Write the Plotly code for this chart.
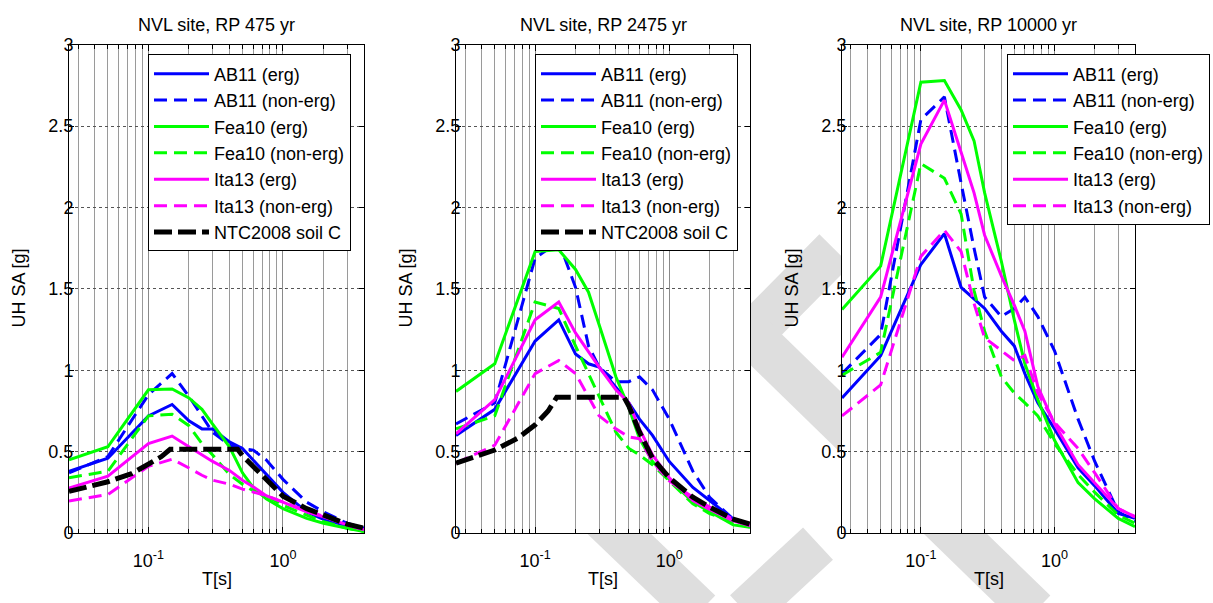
import numpy as np
import plotly.graph_objects as go

# ---------------- data ----------------
T = [0.0257, 0.05, 0.1, 0.15, 0.2, 0.25, 0.3, 0.4, 0.5, 0.6, 0.75, 1.0, 1.5, 2.0, 3.0, 4.0]
T_NTC = [0.0257, 0.05, 0.075, 0.1, 0.125, 0.145, 0.46, 0.5, 0.6, 0.75, 1.0, 1.5, 2.0, 3.0, 4.0]

# RP 475 yr
p1_ab11_erg = [0.38, 0.46, 0.72, 0.79, 0.69, 0.64, 0.64, 0.56, 0.52, 0.45, 0.36, 0.25, 0.13, 0.085, 0.045, 0.02]
p1_ab11_ne  = [0.37, 0.47, 0.85, 0.98, 0.84, 0.72, 0.62, 0.54, 0.52, 0.51, 0.45, 0.33, 0.19, 0.13, 0.06, 0.03]
p1_fea_erg  = [0.45, 0.53, 0.88, 0.885, 0.83, 0.76, 0.67, 0.53, 0.37, 0.28, 0.21, 0.15, 0.09, 0.06, 0.03, 0.01]
p1_fea_ne   = [0.34, 0.38, 0.72, 0.73, 0.66, 0.55, 0.48, 0.36, 0.30, 0.26, 0.23, 0.17, 0.11, 0.07, 0.03, 0.01]
p1_ita_erg  = [0.276, 0.35, 0.55, 0.596, 0.53, 0.48, 0.44, 0.385, 0.325, 0.285, 0.23, 0.19, 0.13, 0.10, 0.05, 0.02]
p1_ita_ne   = [0.197, 0.237, 0.41, 0.454, 0.40, 0.355, 0.325, 0.30, 0.27, 0.25, 0.23, 0.19, 0.14, 0.10, 0.05, 0.02]
p1_ntc      = [0.256, 0.315, 0.365, 0.42, 0.47, 0.515, 0.515, 0.475, 0.41, 0.32, 0.227, 0.15, 0.11, 0.055, 0.03]

# RP 2475 yr
p2_ab11_erg = [0.60, 0.76, 1.18, 1.31, 1.10, 1.04, 1.02, 0.90, 0.80, 0.70, 0.60, 0.44, 0.28, 0.20, 0.085, 0.036]
p2_ab11_ne  = [0.67, 0.80, 1.69, 1.79, 1.51, 1.15, 1.02, 0.93, 0.93, 0.96, 0.88, 0.70, 0.38, 0.22, 0.085, 0.045]
p2_fea_erg  = [0.87, 1.04, 1.73, 1.74, 1.62, 1.48, 1.28, 0.96, 0.77, 0.58, 0.44, 0.33, 0.19, 0.13, 0.05, 0.035]
p2_fea_ne   = [0.64, 0.72, 1.42, 1.38, 1.15, 0.98, 0.84, 0.62, 0.52, 0.48, 0.42, 0.32, 0.18, 0.12, 0.065, 0.045]
p2_ita_erg  = [0.61, 0.82, 1.31, 1.42, 1.23, 1.11, 1.02, 0.88, 0.80, 0.64, 0.48, 0.34, 0.20, 0.145, 0.075, 0.045]
p2_ita_ne   = [0.43, 0.54, 0.98, 1.06, 0.98, 0.84, 0.72, 0.64, 0.59, 0.58, 0.44, 0.32, 0.22, 0.16, 0.085, 0.055]
p2_ntc      = [0.43, 0.51, 0.585, 0.665, 0.75, 0.835, 0.835, 0.78, 0.62, 0.46, 0.34, 0.22, 0.16, 0.085, 0.055]

# RP 10000 yr
p3_ab11_erg = [0.83, 1.09, 1.65, 1.84, 1.51, 1.44, 1.38, 1.24, 1.15, 0.98, 0.80, 0.64, 0.40, 0.29, 0.12, 0.09]
p3_ab11_ne  = [0.98, 1.22, 2.54, 2.68, 2.15, 1.75, 1.45, 1.33, 1.38, 1.45, 1.33, 1.12, 0.70, 0.44, 0.13, 0.07]
p3_fea_erg  = [1.374, 1.64, 2.77, 2.78, 2.60, 2.41, 2.09, 1.67, 1.31, 1.04, 0.82, 0.57, 0.31, 0.21, 0.09, 0.04]
p3_fea_ne   = [0.97, 1.11, 2.27, 2.18, 1.96, 1.49, 1.24, 0.96, 0.86, 0.80, 0.72, 0.55, 0.36, 0.25, 0.11, 0.06]
p3_ita_erg  = [1.08, 1.45, 2.39, 2.66, 2.34, 2.09, 1.83, 1.58, 1.40, 1.24, 0.90, 0.67, 0.42, 0.31, 0.15, 0.10]
p3_ita_ne   = [0.72, 0.91, 1.70, 1.86, 1.73, 1.41, 1.20, 1.12, 1.06, 1.09, 0.86, 0.68, 0.52, 0.37, 0.15, 0.10]

titles = ["NVL site, RP 475 yr", "NVL site, RP 2475 yr", "NVL site, RP 10000 yr"]
names = ["AB11 (erg)", "AB11 (non-erg)", "Fea10 (erg)", "Fea10 (non-erg)",
         "Ita13 (erg)", "Ita13 (non-erg)", "NTC2008 soil C"]

panels = [
    [p1_ab11_erg, p1_ab11_ne, p1_fea_erg, p1_fea_ne, p1_ita_erg, p1_ita_ne, p1_ntc],
    [p2_ab11_erg, p2_ab11_ne, p2_fea_erg, p2_fea_ne, p2_ita_erg, p2_ita_ne, p2_ntc],
    [p3_ab11_erg, p3_ab11_ne, p3_fea_erg, p3_fea_ne, p3_ita_erg, p3_ita_ne, None],
]

# ---------------- styles ----------------
W, H = 1213, 603
FONT = "Liberation Sans, Arial, sans-serif"
FS = 18
styles = [
    dict(color="#0000FF", dash="solid", width=3),
    dict(color="#0000FF", dash="13px,7px", width=3),
    dict(color="#00FF00", dash="solid", width=3),
    dict(color="#00FF00", dash="13px,7px", width=3),
    dict(color="#FF00FF", dash="solid", width=3),
    dict(color="#FF00FF", dash="13px,7px", width=3),
    dict(color="#000000", dash="18px,6px", width=5),
]

px_x = [(69, 364), (456, 750), (842, 1135)]
px_y = (36, 541)
legend_px = [(148, 46), (535, 46), (1007, 46)]

fig = go.Figure()

# watermark (light-grey bands behind the white axes areas)
wm_color = "#dedede"
for (xa, ya, xb, yb) in [(835, 248, 742, 345), (745, 330, 1035, 622),
                         (575, 498, 700, 622), (818, 552, 745, 622)]:
    fig.add_shape(type="line", xref="paper", yref="paper",
                  x0=xa / W, y0=1 - ya / H, x1=xb / W, y1=1 - yb / H,
                  line=dict(color=wm_color, width=44), layer="below")

minor_vals = [0.03, 0.04, 0.05, 0.06, 0.07, 0.08, 0.09,
              0.2, 0.3, 0.4, 0.5, 0.6, 0.7, 0.8, 0.9, 2, 3, 4]

for i in range(3):
    xa = "x" if i == 0 else f"x{i+1}"
    ya = "y" if i == 0 else f"y{i+1}"
    lg = "legend" if i == 0 else f"legend{i+1}"
    # opaque white axes background (subplot layer, above the paper watermark)
    fig.add_shape(type="rect", xref=f"{xa} domain", yref=f"{ya} domain",
                  x0=0, x1=1, y0=0, y1=1, fillcolor="white",
                  line=dict(width=0), layer="below")
    for k, series in enumerate(panels[i]):
        if series is None:
            continue
        xs = T_NTC if k == 6 else T
        fig.add_trace(go.Scatter(x=xs, y=series, mode="lines", name=names[k],
                                 line=styles[k], xaxis=xa, yaxis=ya, legend=lg,
                                 showlegend=True))
    x0, x1 = px_x[i]
    axx = dict(type="log", range=[np.log10(T[0]), np.log10(4)],
               domain=[x0 / W, x1 / W], anchor=ya,
               tickvals=[0.1, 1], ticktext=["10<sup>-1</sup>", "10<sup>0</sup>"],
               ticks="inside", ticklen=6, tickcolor="black", mirror="ticks",
               ticklabelstandoff=11,
               showline=True, linecolor="black", linewidth=1,
               showgrid=True, gridcolor="#8a8a8a", gridwidth=1,
               minor=dict(tickvals=minor_vals, ticks="inside", ticklen=4,
                          tickcolor="black", showgrid=True,
                          gridcolor="#9a9a9a", gridwidth=1),
               tickfont=dict(family=FONT, size=FS, color="black"),
               zeroline=False)
    axy = dict(range=[0, 3], domain=[1 - px_y[1] / H, 1 - px_y[0] / H], anchor=xa,
               tickvals=[0, 0.5, 1, 1.5, 2, 2.5, 3],
               ticktext=["0", "0.5", "1", "1.5", "2", "2.5", "3"],
               ticks="inside", ticklen=5, tickcolor="black", mirror="ticks",
               ticklabelstandoff=-9,
               showline=True, linecolor="black", linewidth=1,
               showgrid=True, gridcolor="#555555", gridwidth=1, griddash="dot",
               tickfont=dict(family=FONT, size=FS, color="black"),
               zeroline=False)
    fig.update_layout(**{("xaxis" if i == 0 else f"xaxis{i+1}"): axx,
                         ("yaxis" if i == 0 else f"yaxis{i+1}"): axy})
    lx, ly = legend_px[i]
    fig.update_layout(**{lg: dict(x=lx / W, y=1 - ly / H, xanchor="left", yanchor="top",
                                  xref="paper", yref="paper",
                                  bgcolor="white", bordercolor="black", borderwidth=1,
                                  font=dict(family=FONT, size=FS, color="black"),
                                  itemwidth=55, tracegroupgap=0)})
    cx = (x0 + x1) / 2
    fig.add_annotation(text=titles[i], x=cx / W, y=1 - 16 / H, xref="paper", yref="paper",
                       showarrow=False, xanchor="center", yanchor="middle",
                       font=dict(family=FONT, size=FS, color="black"))
    fig.add_annotation(text="T[s]", x=cx / W, y=1 - 589 / H, xref="paper", yref="paper",
                       showarrow=False, xanchor="center", yanchor="middle",
                       font=dict(family=FONT, size=FS, color="black"))
    fig.add_annotation(text="UH SA [g]", x=(x0 - 50) / W, y=1 - 288 / H,
                       xref="paper", yref="paper", textangle=-90,
                       showarrow=False, xanchor="center", yanchor="middle",
                       font=dict(family=FONT, size=FS, color="black"))

fig.update_layout(width=W, height=H, margin=dict(l=0, r=0, t=0, b=0),
                  paper_bgcolor="white", plot_bgcolor="white",
                  font=dict(family=FONT, size=FS, color="black"))

fig.write_html("out.html")
